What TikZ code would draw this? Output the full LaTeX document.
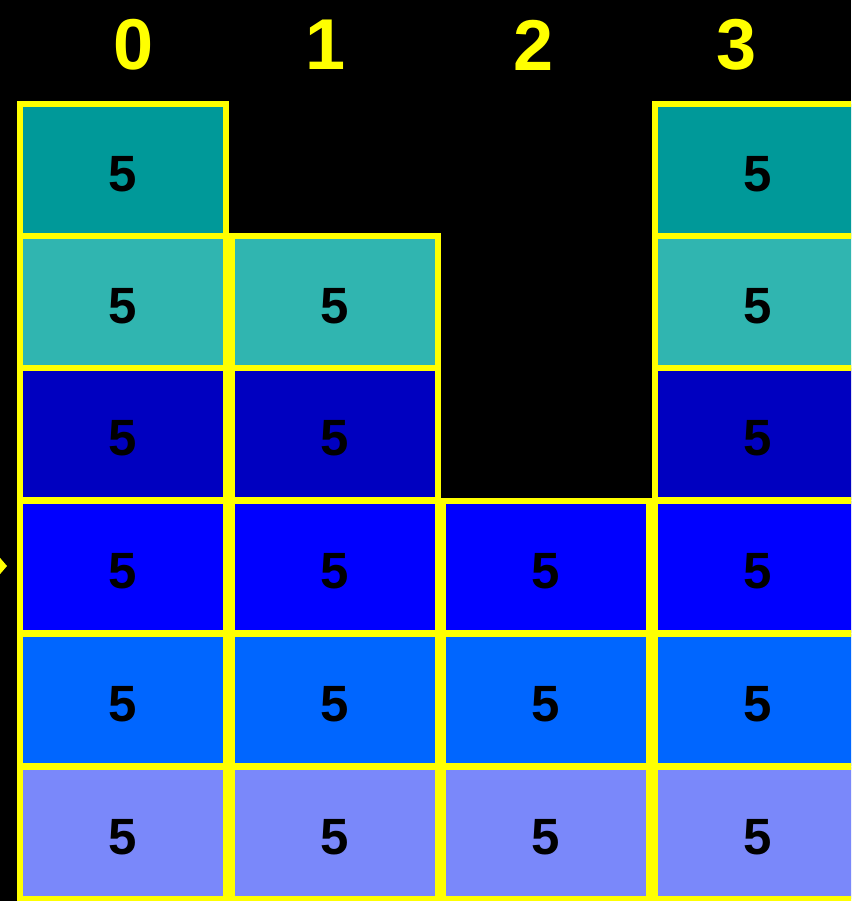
\documentclass[tikz,border=0pt]{standalone}
\usepackage{fontspec}
\setmainfont{Liberation Sans}
\definecolor{rowa}{HTML}{009999}
\definecolor{rowb}{HTML}{30B5B0}
\definecolor{rowc}{HTML}{0000C0}
\definecolor{rowd}{HTML}{0000FF}
\definecolor{rowe}{HTML}{0066FF}
\definecolor{rowf}{HTML}{7A88FA}
\definecolor{ylw}{HTML}{FFFF00}
\tikzset{
  cell/.style={draw=ylw, line width=6pt, minimum width=206pt, minimum height=132pt, inner sep=0pt,
    font=\fontsize{51}{51}\selectfont\bfseries, text=black, text height=43pt, text depth=0pt},
  head/.style={font=\fontsize{72}{72}\selectfont\bfseries, text=ylw},
}
\begin{document}
\begin{tikzpicture}[x=1pt,y=-1pt]
\fill[black] (0,0) rectangle (851,901);
\useasboundingbox (0,0) rectangle (851,901);
\clip (0,0) rectangle (851,901);
\node[head] (h0) at (134,45) {0};
\node[head] (h1) at (326,45) {1};
\node[head] (h2) at (534,45) {2};
\node[head] (h3) at (737,45) {3};
% column 0
\node[cell, fill=rowa] (c0r1) at (123,170) {5};
\node[cell, fill=rowb] (c0r2) at (123,302) {5};
\node[cell, fill=rowc] (c0r3) at (123,434) {5};
\node[cell, fill=rowd] (c0r4) at (123,567) {5};
\node[cell, fill=rowe] (c0r5) at (123,700) {5};
\node[cell, fill=rowf] (c0r6) at (123,833) {5};
% column 1
\node[cell, fill=rowb] (c1r2) at (335,302) {5};
\node[cell, fill=rowc] (c1r3) at (335,434) {5};
\node[cell, fill=rowd] (c1r4) at (335,567) {5};
\node[cell, fill=rowe] (c1r5) at (335,700) {5};
\node[cell, fill=rowf] (c1r6) at (335,833) {5};
% column 2
\node[cell, fill=rowd] (c2r4) at (546,567) {5};
\node[cell, fill=rowe] (c2r5) at (546,700) {5};
\node[cell, fill=rowf] (c2r6) at (546,833) {5};
% column 3
\node[cell, fill=rowa] (c3r1) at (758,170) {5};
\node[cell, fill=rowb] (c3r2) at (758,302) {5};
\node[cell, fill=rowc] (c3r3) at (758,434) {5};
\node[cell, fill=rowd] (c3r4) at (758,567) {5};
\node[cell, fill=rowe] (c3r5) at (758,700) {5};
\node[cell, fill=rowf] (c3r6) at (758,833) {5};
% pointer
\coordinate (tip) at (7,566);
\fill[ylw] (tip) -- (-5,552) -- (-5,580) -- cycle;
\end{tikzpicture}
\end{document}
